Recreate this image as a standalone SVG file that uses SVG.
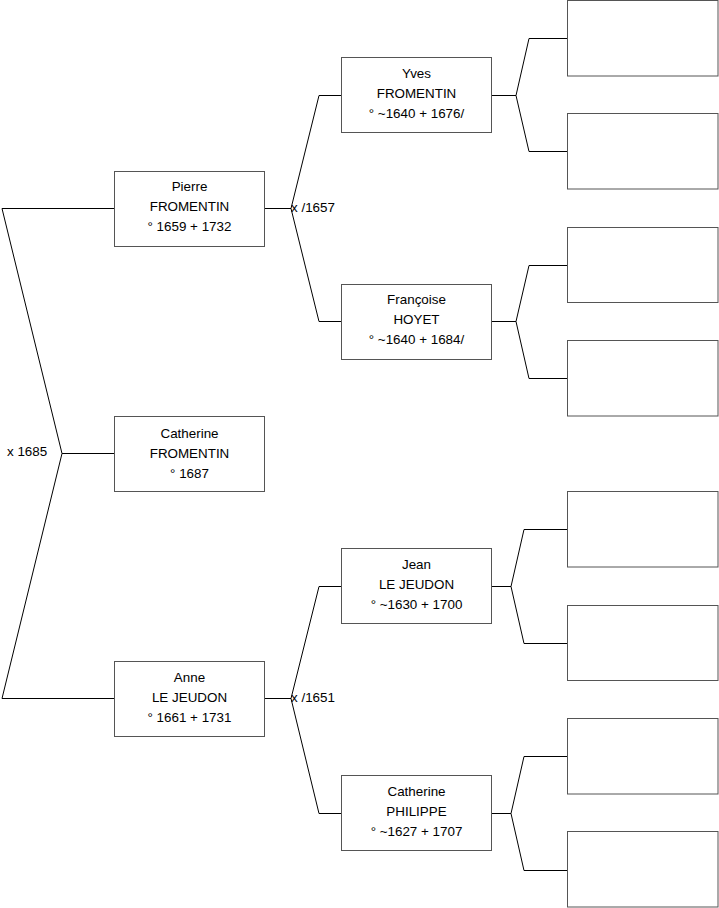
<svg xmlns="http://www.w3.org/2000/svg" width="719" height="908" viewBox="0 0 719 908">
<style>
.box{fill:#fff;stroke:#555;stroke-width:1}
.ln{fill:none;stroke:#000;stroke-width:1}
text{font-family:"Liberation Sans",Arial,sans-serif;font-size:13.4px;fill:#000}
.c{text-anchor:middle}
</style>
<rect width="719" height="908" fill="#fff"/>
<g id="connectors">
<polyline class="ln" points="114,208.5 2,208.5 62,453.5 114,453.5"/>
<polyline class="ln" points="62,453.5 2,698.5 114,698.5"/>
<polyline class="ln" points="265,208.5 291,208.5"/>
<polyline class="ln" points="341,95.5 319,95.5 291,208.5 319,321.5 341,321.5"/>
<polyline class="ln" points="265,698.5 291,698.5"/>
<polyline class="ln" points="341,586.5 319,586.5 291,698.5 319,813.5 341,813.5"/>
<polyline class="ln" points="491,95.5 516,95.5"/>
<polyline class="ln" points="567,38.5 529,38.5 516,95.5 529,151.5 567,151.5"/>
<polyline class="ln" points="491,321.5 516,321.5"/>
<polyline class="ln" points="567,265.5 529,265.5 516,321.5 529,378.5 567,378.5"/>
<polyline class="ln" points="491,586.5 511,586.5"/>
<polyline class="ln" points="567,529.5 524,529.5 511,586.5 524,643.5 567,643.5"/>
<polyline class="ln" points="491,813.5 511,813.5"/>
<polyline class="ln" points="567,756.5 524,756.5 511,813.5 524,870.5 567,870.5"/>
<text x="7" y="456">x 1685</text>
<text x="291" y="212">x /1657</text>
<text x="291" y="702">x /1651</text>
</g>
<g id="pierre"><rect class="box" x="114.5" y="171.5" width="150" height="75"/>
<text class="c" x="189.5" y="191">Pierre</text><text class="c" x="189.5" y="211">FROMENTIN</text><text class="c" x="189.5" y="231">° 1659 + 1732</text></g>
<g id="catherine"><rect class="box" x="114.5" y="416.5" width="150" height="75"/>
<text class="c" x="189.5" y="438">Catherine</text><text class="c" x="189.5" y="458">FROMENTIN</text><text class="c" x="189.5" y="478">° 1687</text></g>
<g id="anne"><rect class="box" x="114.5" y="661.5" width="150" height="75"/>
<text class="c" x="189.5" y="682">Anne</text><text class="c" x="189.5" y="702">LE JEUDON</text><text class="c" x="189.5" y="722">° 1661 + 1731</text></g>
<g id="yves"><rect class="box" x="341.5" y="57.5" width="150" height="75"/>
<text class="c" x="416.5" y="78">Yves</text><text class="c" x="416.5" y="98">FROMENTIN</text><text class="c" x="416.5" y="118">° ~1640 + 1676/</text></g>
<g id="francoise"><rect class="box" x="341.5" y="284.5" width="150" height="75"/>
<text class="c" x="416.5" y="304">Françoise</text><text class="c" x="416.5" y="324">HOYET</text><text class="c" x="416.5" y="344">° ~1640 + 1684/</text></g>
<g id="jean"><rect class="box" x="341.5" y="548.5" width="150" height="75"/>
<text class="c" x="416.5" y="569">Jean</text><text class="c" x="416.5" y="589">LE JEUDON</text><text class="c" x="416.5" y="609">° ~1630 + 1700</text></g>
<g id="catherine-p"><rect class="box" x="341.5" y="775.5" width="150" height="75"/>
<text class="c" x="416.5" y="796">Catherine</text><text class="c" x="416.5" y="816">PHILIPPE</text><text class="c" x="416.5" y="836">° ~1627 + 1707</text></g>
<g id="g3-1"><rect class="box" x="567.5" y="0.5" width="150.5" height="75.5"/></g>
<g id="g3-2"><rect class="box" x="567.5" y="113.5" width="150.5" height="75.5"/></g>
<g id="g3-3"><rect class="box" x="567.5" y="227.5" width="150.5" height="75"/></g>
<g id="g3-4"><rect class="box" x="567.5" y="340.5" width="150.5" height="75.5"/></g>
<g id="g3-5"><rect class="box" x="567.5" y="491.5" width="150.5" height="75.5"/></g>
<g id="g3-6"><rect class="box" x="567.5" y="605.5" width="150.5" height="75"/></g>
<g id="g3-7"><rect class="box" x="567.5" y="718.5" width="150.5" height="75.5"/></g>
<g id="g3-8"><rect class="box" x="567.5" y="831.5" width="150.5" height="75.5"/></g>
</svg>
